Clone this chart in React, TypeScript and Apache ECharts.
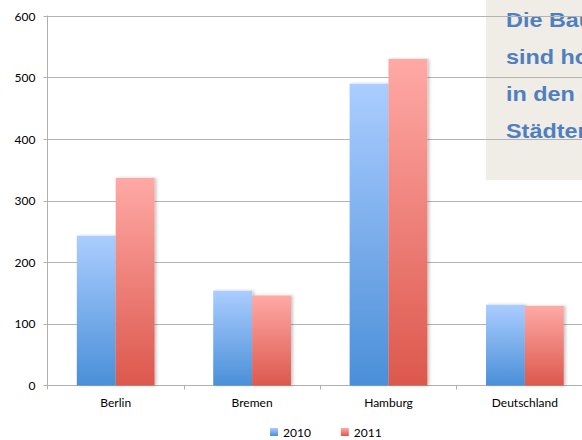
import React, { useEffect, useRef } from "react";
import * as echarts from "echarts";

// Bauland-Preise je Stadt, 2010 vs. 2011
const categories = ["Berlin", "Bremen", "Hamburg", "Deutschland"];
const values2010 = [243, 154, 490, 131];
const values2011 = [337, 146, 530, 129];
const yTicks = { min: 0, max: 600, interval: 100 };
const noteLines = ["Die Baupreise", "sind hoch", "in den großen", "Städten"];

const FONT = "Lato, 'Open Sans', sans-serif";

const barGradient = (top: string, bottom: string) =>
  new echarts.graphic.LinearGradient(0, 0, 0, 1, [
    { offset: 0, color: top },
    { offset: 1, color: bottom },
  ]);

export default function App() {
  const ref = useRef<HTMLDivElement>(null);

  useEffect(() => {
    if (!ref.current) return;
    const chart = echarts.init(ref.current, undefined, { renderer: "svg" });

    const shadow = {
      shadowColor: "rgba(0,0,0,0.22)",
      shadowBlur: 3,
      shadowOffsetX: 2,
      shadowOffsetY: 0,
    };

    chart.setOption({
      animation: false,
      backgroundColor: "#ffffff",
      // the plot runs past the right edge of the canvas
      grid: {
        left: 47.5,
        width: 545.6,
        top: 16,
        bottom: 54.5,
        containLabel: false,
        outerBoundsMode: "none",
      },
      legend: {
        left: 265,
        top: 421,
        icon: "rect",
        itemWidth: 8,
        itemHeight: 8,
        itemGap: 30,
        textStyle: { fontFamily: FONT, fontSize: 12, color: "#000" },
        data: ["2010", "2011"],
      },
      xAxis: {
        type: "category",
        data: categories,
        axisLine: { lineStyle: { color: "#b0b0b0", width: 1 } },
        axisTick: { show: true, length: 4, lineStyle: { color: "#b0b0b0" } },
        axisLabel: { fontFamily: FONT, fontSize: 12, color: "#000", margin: 11 },
      },
      yAxis: {
        type: "value",
        min: yTicks.min,
        max: yTicks.max,
        interval: yTicks.interval,
        axisLine: { show: true, lineStyle: { color: "#b0b0b0", width: 1 } },
        axisTick: { show: true, length: 4, lineStyle: { color: "#b0b0b0" } },
        splitLine: { lineStyle: { color: "#b3b3b3", width: 1 } },
        axisLabel: { fontFamily: FONT, fontSize: 12, color: "#000", margin: 12 },
      },
      series: [
        {
          name: "2010",
          type: "bar",
          data: values2010,
          barGap: "0%",
          barCategoryGap: "43%",
          itemStyle: { color: barGradient("#abcdff", "#4a8fd8"), ...shadow },
        },
        {
          name: "2011",
          type: "bar",
          data: values2011,
          barGap: "0%",
          barCategoryGap: "43%",
          itemStyle: { color: barGradient("#ffa9a5", "#dc584d"), ...shadow },
        },
      ],
      graphic: [
        {
          type: "group",
          left: 486,
          top: 0,
          children: [
            {
              type: "rect",
              shape: { x: 0, y: 0, width: 140, height: 180 },
              style: { fill: "#efede5" },
            },
            ...noteLines.map((line, i) => ({
              type: "text",
              x: 20,
              y: 20.4 + i * 37,
              scaleX: 1.17,
              style: {
                text: line,
                fill: "#4f7fbf",
                font: "bold 20px 'Liberation Sans', Arial, sans-serif",
                verticalAlign: "middle",
                align: "left",
              },
            })),
          ],
        },
      ],
    });

    return () => chart.dispose();
  }, []);

  return (
    <div
      ref={ref}
      style={{ position: "fixed", left: 0, top: 0, width: 582, height: 440 }}
    />
  );
}
